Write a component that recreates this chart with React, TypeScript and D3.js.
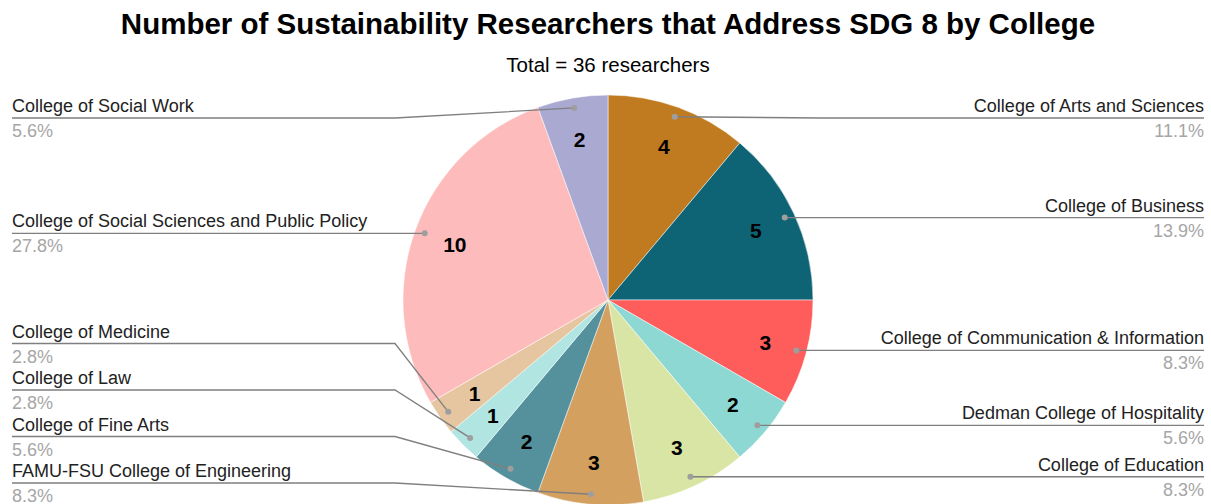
import { useEffect, useRef } from 'react'
import * as d3 from 'd3'

const colleges = [
    'College of Arts and Sciences',
    'College of Business',
    'College of Communication & Information',
    'Dedman College of Hospitality',
    'College of Education',
    'FAMU-FSU College of Engineering',
    'College of Fine Arts',
    'College of Law',
    'College of Medicine',
    'College of Social Sciences and Public Policy',
    'College of Social Work',
]
const researchers = [4, 5, 3, 2, 3, 3, 2, 1, 1, 10, 2]
const sliceColors = [
    '#c07a1f', '#0e6474', '#ff5c5c', '#8ed8d3', '#d9e5a4', '#d3a05f',
    '#54919c', '#b0e5e1', '#e5c6a1', '#fdbbbb', '#aaa9d2',
]

const title = 'Number of Sustainability Researchers that Address SDG 8 by College'

const Chart = () => {
    const ref = useRef<SVGSVGElement | null>(null)

    useEffect(() => {
        if (!ref.current) return
        const width = 1211
        const height = 504
        const cx = 608
        const cy = 300
        const r = 205
        const font = '"Liberation Sans", Arial, sans-serif'

        const svg = d3.select(ref.current)
        svg.selectAll('*').remove()
        svg.attr('width', width).attr('height', height)

        const total = d3.sum(researchers)
        const rows = colleges.map((name, i) => ({ name, value: researchers[i], color: sliceColors[i] }))
        const pie = d3.pie<(typeof rows)[number]>().sort(null).value(d => d.value)
        const arcs = pie(rows)
        const arc = d3.arc<d3.PieArcDatum<(typeof rows)[number]>>().innerRadius(0).outerRadius(r)
        const dotArc = d3.arc<d3.PieArcDatum<(typeof rows)[number]>>().innerRadius(195).outerRadius(195)
        const valArc = d3.arc<d3.PieArcDatum<(typeof rows)[number]>>().innerRadius(163).outerRadius(163)

        svg.append('text')
            .attr('x', cx).attr('y', 34)
            .attr('text-anchor', 'middle')
            .attr('font-family', font).attr('font-weight', 'bold').attr('font-size', 29.5)
            .text(title)
        svg.append('text')
            .attr('x', cx).attr('y', 72)
            .attr('text-anchor', 'middle')
            .attr('font-family', font).attr('font-size', 20.5)
            .text(`Total = ${total} researchers`)

        const g = svg.append('g').attr('transform', `translate(${cx},${cy})`)
        g.selectAll('path.slice')
            .data(arcs)
            .join('path')
            .attr('class', 'slice')
            .attr('d', arc)
            .attr('fill', d => d.data.color)
            .attr('stroke', '#fff')
            .attr('stroke-width', 0.5)

        // label layout per side
        const minY = 118
        const maxY = 483
        const gap = 46.5
        const labels = arcs.map(a => {
            const [dx, dy] = dotArc.centroid(a)
            const mid = (a.startAngle + a.endAngle) / 2
            return { a, dx: cx + dx, dy: cy + dy, right: mid < Math.PI, y: cy + dy }
        })
        for (const side of [true, false]) {
            const list = labels.filter(l => l.right === side).sort((p, q) => p.y - q.y)
            list.forEach(l => { l.y = Math.max(minY, Math.min(maxY, l.y)) })
            for (let i = 1; i < list.length; i++) {
                if (list[i].y - list[i - 1].y < gap) list[i].y = list[i - 1].y + gap
            }
            if (list.length && list[list.length - 1].y > maxY) list[list.length - 1].y = maxY
            for (let i = list.length - 2; i >= 0; i--) {
                if (list[i + 1].y - list[i].y < gap) list[i].y = list[i + 1].y - gap
            }
        }

        const lg = svg.append('g')
        labels.forEach(l => {
            const elbowX = l.right ? cx + r + 8 : cx - r - 8
            const endX = l.right ? 1204 : 12
            lg.append('path')
                .attr('d', `M${l.dx},${l.dy}L${elbowX},${l.y}L${endX},${l.y}`)
                .attr('fill', 'none')
                .attr('stroke', '#7f7f7f')
                .attr('stroke-width', 1.3)
            lg.append('circle')
                .attr('cx', l.dx).attr('cy', l.dy).attr('r', 3)
                .attr('fill', '#9e9e9e')
            lg.append('text')
                .attr('x', endX).attr('y', l.y - 6)
                .attr('text-anchor', l.right ? 'end' : 'start')
                .attr('font-family', font).attr('font-size', 18)
                .attr('fill', '#222')
                .text(l.a.data.name)
            lg.append('text')
                .attr('x', endX).attr('y', l.y + 19)
                .attr('text-anchor', l.right ? 'end' : 'start')
                .attr('font-family', font).attr('font-size', 18)
                .attr('fill', '#a6a6a6')
                .text(`${((l.a.data.value / total) * 100).toFixed(1)}%`)
        })

        g.selectAll('text.val')
            .data(arcs)
            .join('text')
            .attr('class', 'val')
            .attr('transform', d => `translate(${valArc.centroid(d)})`)
            .attr('text-anchor', 'middle')
            .attr('dy', '0.35em')
            .attr('font-family', font).attr('font-weight', 'bold').attr('font-size', 21)
            .attr('fill', '#000')
            .text(d => d.data.value)
    }, [])

    return <svg ref={ref} style={{ display: 'block' }}></svg>
}

const App = () => (
    <div>
        <style>{'body{margin:0}'}</style>
        <Chart />
    </div>
)

export default App
